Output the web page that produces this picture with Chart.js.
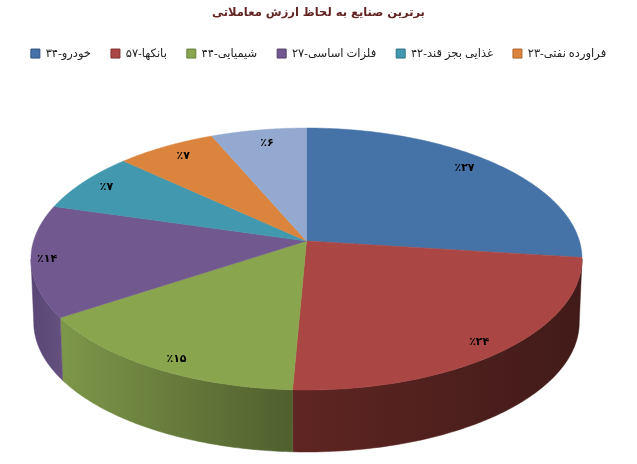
<!DOCTYPE html>
<html lang="fa">
<head>
<meta charset="utf-8">
<title>برترین صنایع</title>
<script src="https://cdn.jsdelivr.net/npm/chart.js@4/dist/chart.umd.min.js"></script>
<style>
    html, body { margin: 0; padding: 0; background: #fff; }
    canvas { display: block; }
</style>
</head>
<body>
<canvas id="pie" width="637" height="464"></canvas>
<script>
// Data
const titleText = 'برترین صنایع به لحاظ ارزش معاملاتی';
const categories = ['خودرو-۳۴', 'بانکها-۵۷', 'شیمیایی-۴۴', 'فلزات اساسی-۲۷', 'غذایی بجز قند-۴۲', 'فراورده نفتی-۲۳', ''];
const shares = [27.0, 23.7, 15.0, 13.8, 7.4, 6.7, 6.4];

// Colours
const sliceColors = ['#4572A7', '#AA4643', '#89A54E', '#71588F', '#4198AF', '#DB843D', '#93A9CF'];
const swatchBorders = ['#2f5380', '#7f3230', '#66803a', '#52406b', '#2d7286', '#b06528', '#6f85ab'];
const wallLeft = ['#2f4d72', '#5f2522', '#7d9749', '#5a4674', '#2c6777', '#955a29', '#64738d'];
const wallRight = ['#411b19', '#411b19', '#505f2e', '#64507f', '#2c6777', '#955a29', '#64738d'];

// Perspective of the disc: apex of the pie and how the unit circle is projected
const apexX = 306.5, apexY = 241;
const spreadX = 272.9, spreadY = 128.5, tilt = -0.1374;
const wallShrink = 0.99, wallDepth = 63.5;
const labelReach = [0.83, 0.89, 0.92, 0.95, 0.86, 0.87, 0.87];
const labelShiftX = [0, 0, 9, 2, -7, 1, 3];
const labelShiftY = [-7, 5, 3, -1, -2, -2, 0];

function project(theta, reach) {
    const X = Math.sin(theta) * reach;
    const Y = -Math.cos(theta) * reach;
    const w = 1 + tilt * Y;
    return { x: spreadX * X / w, y: spreadY * Y / w };
}

function toPersian(n) {
    return String(n).replace(/\d/g, d => '۰۱۲۳۴۵۶۷۸۹'[d]);
}

// Angles where the disc outline is widest, the wall stops there
const wallFrom = Math.acos(tilt);
const wallTo = 2 * Math.PI - wallFrom;

// Draws the pie arcs of Chart.js as a tilted 3D disc
const discPlugin = {
    id: 'disc',
    beforeDatasetDraw(chart) {
        const ctx = chart.ctx;
        const arcs = chart.getDatasetMeta(0).data;
        const total = shares.reduce((a, b) => a + b, 0);

        // Side wall
        arcs.forEach((arc, i) => {
            const from = Math.max(arc.startAngle + Math.PI / 2, wallFrom);
            const to = Math.min(arc.endAngle + Math.PI / 2, wallTo);
            if (to <= from) return;
            const upper = [], lower = [];
            for (let k = 0; k <= 80; k++) {
                const p = project(from + (to - from) * k / 80, 1);
                upper.push([apexX + p.x, apexY + p.y]);
                lower.push([apexX + p.x * wallShrink, apexY + p.y * wallShrink + wallDepth]);
            }
            const xs = upper.map(p => p[0]);
            const grad = ctx.createLinearGradient(Math.min(...xs), 0, Math.max(...xs), 0);
            grad.addColorStop(0, wallLeft[i]);
            grad.addColorStop(1, wallRight[i]);
            ctx.beginPath();
            upper.forEach((p, k) => k ? ctx.lineTo(p[0], p[1]) : ctx.moveTo(p[0], p[1]));
            lower.reverse().forEach(p => ctx.lineTo(p[0], p[1]));
            ctx.closePath();
            ctx.fillStyle = grad;
            ctx.fill();
            ctx.strokeStyle = grad;
            ctx.lineWidth = 0.5;
            ctx.stroke();
        });

        // Top face
        arcs.forEach((arc, i) => {
            const from = arc.startAngle + Math.PI / 2;
            const to = arc.endAngle + Math.PI / 2;
            ctx.beginPath();
            ctx.moveTo(apexX, apexY);
            for (let k = 0; k <= 120; k++) {
                const p = project(from + (to - from) * k / 120, 1);
                ctx.lineTo(apexX + p.x, apexY + p.y);
            }
            ctx.closePath();
            ctx.fillStyle = sliceColors[i];
            ctx.fill();
            ctx.strokeStyle = sliceColors[i];
            ctx.lineWidth = 0.5;
            ctx.stroke();
        });

        // Percent labels
        ctx.save();
        ctx.direction = 'ltr';
        ctx.font = 'bold 11px "DejaVu Sans"';
        ctx.fillStyle = '#000';
        ctx.textAlign = 'center';
        ctx.textBaseline = 'middle';
        arcs.forEach((arc, i) => {
            const mid = (arc.startAngle + arc.endAngle) / 2 + Math.PI / 2;
            const p = project(mid, labelReach[i]);
            ctx.fillText('٪' + toPersian(Math.round(shares[i] / total * 100)),
                apexX + p.x + labelShiftX[i], apexY + p.y + labelShiftY[i]);
        });
        ctx.restore();
        return false;
    }
};

new Chart(document.getElementById('pie'), {
    type: 'pie',
    plugins: [discPlugin],
    data: {
        labels: categories,
        datasets: [{
            data: shares,
            backgroundColor: sliceColors,
            borderColor: swatchBorders,
            borderWidth: 1
        }]
    },
    options: {
        responsive: false,
        animation: false,
        plugins: {
            title: {
                display: true,
                text: titleText,
                color: '#632523',
                font: { family: '"DejaVu Sans"', size: 11.5, weight: 'bold' },
                padding: { top: 6, bottom: 8 }
            },
            legend: {
                position: 'top',
                textDirection: 'rtl',
                labels: {
                    boxWidth: 9,
                    boxHeight: 9,
                    padding: 20,
                    color: '#222',
                    font: { family: '"Noto Sans", "DejaVu Sans"', size: 11.5 },
                    filter: item => item.text !== ''
                }
            },
            tooltip: { enabled: false }
        }
    }
});
</script>
</body>
</html>
